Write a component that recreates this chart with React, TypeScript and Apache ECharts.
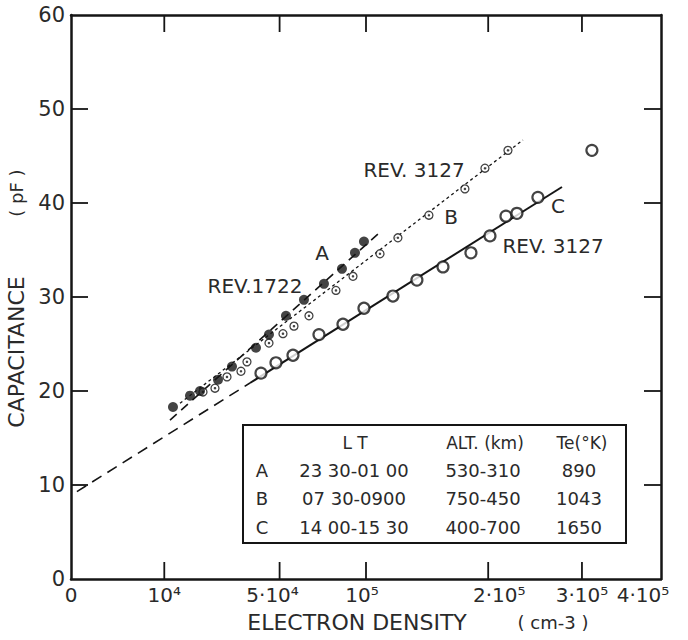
import React, { useEffect, useRef } from "react";
import * as echarts from "echarts";

const FONT = '"DejaVu Sans", sans-serif';
const INK = "#151515";
const TEXT = "#2a2a2a";

// X axis (square-root scale of electron density, cm^-3)
const X_MAX_DENSITY = 4e5;
const xTickDensities = [1e4, 5e4, 1e5, 2e5, 3e5];
const xLabelDensities = [0, 1e4, 5e4, 1e5, 2e5, 3e5, 4e5];
const xLabelTexts = ["0", "10⁴", "5·10⁴", "10⁵", "2·10⁵", "3·10⁵", "4·10⁵"];
const xLabelStyles = ["c", "c", "l", "l2", "r", "c", "ll"];

// Y axis (capacitance, pF)
const Y_MIN = 0;
const Y_MAX = 60;
const Y_INTERVAL = 10;
const yTickValues = [10, 20, 30, 40, 50];

// Series A — REV.1722 (filled circles): [density cm^-3, capacitance pF]
const seriesA: number[][] = [
  [11950, 18.3], [16270, 19.5], [19120, 20.0], [24830, 21.2], [29780, 22.6],
  [39320, 24.6], [45040, 26.0], [53100, 28.0], [62360, 29.7], [73530, 31.4],
  [84370, 33.0], [92660, 34.7], [98620, 35.9],
];
// Series B — REV.3127 (small dotted circles)
const seriesB: number[][] = [
  [20020, 19.9], [23820, 20.3], [27960, 21.5], [33200, 22.1], [35580, 23.1],
  [45040, 25.1], [51630, 26.1], [57130, 26.9], [65070, 28.0], [80670, 30.7],
  [91370, 32.2], [109700, 34.6], [122800, 36.3], [147200, 38.7], [178300, 41.5],
  [196900, 43.7], [219400, 45.6],
];
// Series C — REV.3127 (open circles)
const seriesC: number[][] = [
  [41460, 21.9], [48280, 23.0], [56620, 23.8], [70650, 26.0], [84990, 27.1],
  [98620, 28.8], [119100, 30.1], [137500, 31.8], [159000, 33.2], [183800, 34.7],
  [201700, 36.5], [217400, 38.6], [228500, 38.9], [250500, 40.6], [311800, 45.6],
];
// Fitted lines (end points)
const lineA: number[][] = [[11260, 16.9], [109700, 36.9]];
const lineB: number[][] = [[13650, 18.7], [234700, 46.7]];
const lineC: number[][] = [[36800, 20.85], [277000, 41.7]];
const lineCExtrapolated: number[][] = [[40, 9.3], [36800, 20.85]];

// Table
const tableHeader = ["L T", "ALT. (km)", "Te(°K)"];
const tableRows = [
  ["A", "23 30-01 00", "530-310", "890"],
  ["B", "07 30-0900", "750-450", "1043"],
  ["C", "14 00-15 30", "400-700", "1650"],
];

const toXY = (d: number[]) => [Math.sqrt(d[0]), d[1]];

const CHART_W = 688;
const CHART_H = 640;
const GRID = { left: 71, right: 27, top: 15, bottom: 61 };
const TICK_PX = 17;

function tickGraphics() {
  const xMax = Math.sqrt(X_MAX_DENSITY);
  const x0 = GRID.left;
  const x1 = CHART_W - GRID.right;
  const yTop = GRID.top;
  const yBot = CHART_H - GRID.bottom;
  const px = (s: number) => x0 + ((x1 - x0) * s) / xMax;
  const py = (v: number) => yBot - ((yBot - yTop) * (v - Y_MIN)) / (Y_MAX - Y_MIN);
  const style = { stroke: INK, lineWidth: 1.8 };
  const out: any[] = [];
  xTickDensities.forEach((d) => {
    const x = px(Math.sqrt(d));
    out.push({ type: "line", z: 9, silent: true, shape: { x1: x, y1: yBot, x2: x, y2: yBot - TICK_PX }, style });
    out.push({ type: "line", z: 9, silent: true, shape: { x1: x, y1: yTop, x2: x, y2: yTop + TICK_PX }, style });
  });
  yTickValues.forEach((v) => {
    const y = py(v);
    out.push({ type: "line", z: 9, silent: true, shape: { x1: x0, y1: y, x2: x0 + TICK_PX, y2: y }, style });
    out.push({ type: "line", z: 9, silent: true, shape: { x1: x1, y1: y, x2: x1 - TICK_PX, y2: y }, style });
  });
  return out;
}

function buildOption() {
  const xMax = Math.sqrt(X_MAX_DENSITY);
  const lbl = (extra: any = {}) => ({ fontSize: 20, color: TEXT, fontFamily: FONT, ...extra });
  const xCommon = {
    type: "value",
    min: 0,
    max: xMax,
    splitLine: { show: false },
    axisLine: { show: true, onZero: false, lineStyle: { color: INK, width: 2.5 } },
    axisTick: { show: false },
  };
  const yCommon = {
    type: "value",
    min: Y_MIN,
    max: Y_MAX,
    interval: Y_INTERVAL,
    splitLine: { show: false },
    axisLine: { show: true, onZero: false, lineStyle: { color: INK, width: 2.5 } },
    axisTick: { show: false },
  };

  const lineSeries = (data: number[][], width: number, type: any) => ({
    type: "line",
    data: data.map(toXY),
    symbol: "none",
    silent: true,
    z: 1,
    lineStyle: { color: INK, width, type },
  });

  const gText = (text: string, x: number, y: number, size: number, extra: any = {}) => ({
    type: "text",
    x,
    y,
    silent: true,
    z: 10,
    ...extra,
    style: {
      text,
      fill: TEXT,
      fontSize: size,
      fontFamily: FONT,
      textAlign: "center",
      textVerticalAlign: "middle",
    },
  });

  const colX = [262, 354, 483, 579];
  const rowY = [470, 498, 527];
  const tableTexts: any[] = [];
  tableTexts.push(gText(tableHeader[0], 355, 443, 17));
  tableTexts.push(gText(tableHeader[1], 485, 443, 17));
  tableTexts.push(gText(tableHeader[2], 582, 443, 17));
  tableRows.forEach((row, r) => {
    row.forEach((cell, c) => tableTexts.push(gText(cell, colX[c], rowY[r], 18)));
  });

  return {
    animation: false,
    backgroundColor: "#ffffff",
    grid: { ...GRID },
    xAxis: [
      {
        ...xCommon,
        position: "bottom",
        axisLabel: {
          show: true,
          customValues: xLabelDensities.map(Math.sqrt),
          margin: 6,
          ...lbl(),
          formatter: (value: number) => {
            const i = xLabelDensities.findIndex((d) => Math.abs(Math.sqrt(d) - value) < 1e-6);
            if (i < 0) return "";
            return `{${xLabelStyles[i]}|${xLabelTexts[i]}}`;
          },
          rich: {
            c: lbl(),
            l: lbl({ padding: [0, 14, 0, 0] }),
            l2: lbl({ padding: [0, 8, 0, 0] }),
            r: lbl({ padding: [0, 0, 0, 22] }),
            ll: lbl({ padding: [0, 36, 0, 0] }),
          },
        },
      },
      { ...xCommon, position: "top", axisLabel: { show: false } },
    ],
    yAxis: [
      {
        ...yCommon,
        position: "left",
        axisLabel: { show: true, margin: 6, ...lbl({ fontSize: 21 }) },
      },
      { ...yCommon, position: "right", axisLabel: { show: false } },
    ],
    series: [
      lineSeries(lineCExtrapolated, 1.6, [11, 7]),
      lineSeries(lineC, 2, "solid"),
      lineSeries(lineA, 1.6, [9, 6]),
      lineSeries(lineB, 1.3, [3, 3]),
      {
        type: "scatter",
        data: seriesB.map(toXY),
        symbol: "circle",
        symbolSize: 8,
        z: 3,
        itemStyle: { color: "#ffffff", borderColor: INK, borderWidth: 1.3 },
      },
      {
        type: "scatter",
        data: seriesB.map(toXY),
        symbol: "circle",
        symbolSize: 2.5,
        z: 4,
        itemStyle: { color: INK },
      },
      {
        type: "scatter",
        data: seriesC.map(toXY),
        symbol: "circle",
        symbolSize: 11,
        z: 3,
        itemStyle: { color: "#ffffff", borderColor: INK, borderWidth: 2.2 },
      },
      {
        type: "scatter",
        data: seriesA.map(toXY),
        symbol: "circle",
        symbolSize: 10,
        z: 5,
        itemStyle: { color: INK },
      },
    ],
    graphic: [
      ...tickGraphics(),
      gText("CAPACITANCE", 16, 352, 22, { rotation: Math.PI / 2 }),
      gText("( pF )", 16, 193, 18, { rotation: Math.PI / 2 }),
      gText("ELECTRON DENSITY", 357, 622, 22),
      gText("( cm-3 )", 553, 622, 18),
      gText("REV.1722", 255, 286, 20),
      gText("A", 322, 253, 20),
      gText("REV. 3127", 414, 170, 20),
      gText("B", 451, 217, 20),
      gText("C", 558, 206, 20),
      gText("REV. 3127", 553, 246, 20),
      {
        type: "rect",
        shape: { x: 243, y: 425, width: 383, height: 118 },
        z: 8,
        style: { fill: "#ffffff", stroke: INK, lineWidth: 2 },
      },
      ...tableTexts,
    ],
  };
}

export default function App() {
  const ref = useRef<HTMLDivElement>(null);
  useEffect(() => {
    if (!ref.current) return;
    const chart = echarts.init(ref.current, null, { renderer: "svg" });
    chart.setOption(buildOption() as any);
    return () => chart.dispose();
  }, []);
  return (
    <div
      ref={ref}
      style={{ position: "absolute", left: 0, top: 0, width: CHART_W, height: CHART_H, background: "#fff" }}
    />
  );
}
